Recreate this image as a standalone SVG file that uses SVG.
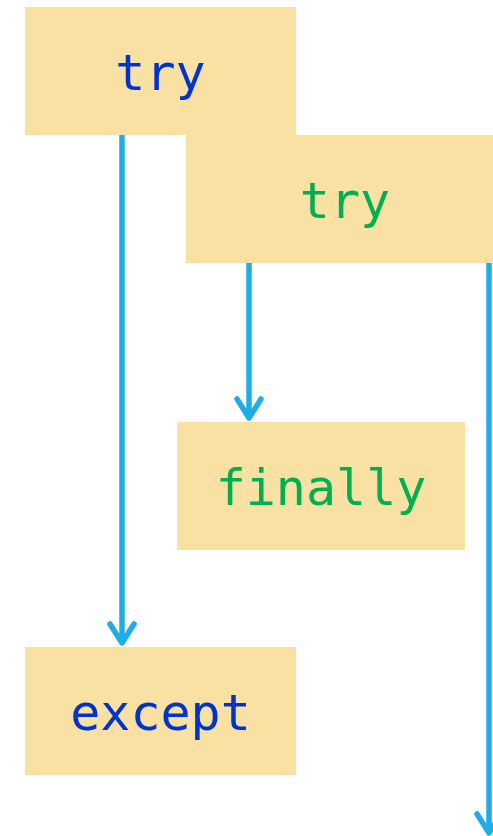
<svg xmlns="http://www.w3.org/2000/svg" width="493" height="836" viewBox="0 0 493 836">
<style>
.box{fill:#F9E1A4}
.t{font-family:"DejaVu Sans Mono",monospace;font-size:50px;text-anchor:middle}
.b{fill:#0033CC}
.g{fill:#00B050}
.c{stroke:#1EADE5;stroke-width:5.5;fill:none;stroke-linejoin:round}
.h{stroke:#1EADE5;stroke-width:5.5;fill:none;stroke-linecap:round;stroke-linejoin:round}
</style>
<rect width="493" height="836" fill="#fff"/>
<g id="try1"><rect class="box" x="25" y="7" width="271" height="128"/><text class="t b" x="160.5" y="90">try</text></g>
<g id="try2"><rect class="box" x="186" y="135" width="318" height="128"/><text class="t g" x="345" y="218">try</text></g>
<g id="finally"><rect class="box" x="177" y="422" width="288" height="128"/><text class="t g" x="321" y="505">finally</text></g>
<g id="except"><rect class="box" x="25" y="647" width="271" height="128"/><text class="t b" x="160.5" y="730">except</text></g>
<g id="connectors">
<path class="c" d="M122 135V641"/><path class="h" d="M110 624L122 643L134 624"/>
<path class="c" d="M249 263V416"/><path class="h" d="M237 399L249 418L261 399"/>
<path class="c" d="M489 263V831"/><path class="h" d="M477 814L489 833L501 814"/>
</g>
</svg>
